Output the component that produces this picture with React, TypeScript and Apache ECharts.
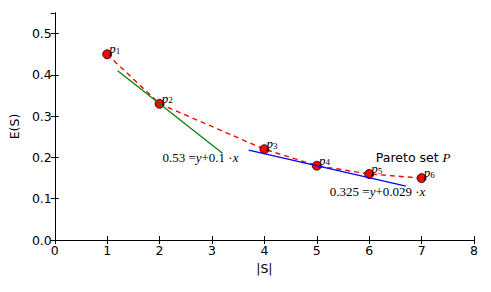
import React, { useEffect, useRef } from "react";
import * as echarts from "echarts";

const sizes = [1, 2, 4, 5, 6, 7];
const errors = [0.45, 0.33, 0.22, 0.18, 0.16, 0.15];
const pointIndices = ["1", "2", "3", "4", "5", "6"];
const fit1X = [1.2, 3.2];
const fit1Y = [0.41, 0.21];
const fit2X = [3.7, 6.7];
const fit2Y = [0.2177, 0.1307];
const xTicks = [0, 1, 2, 3, 4, 5, 6, 7, 8];
const yTicks = [0, 0.1, 0.2, 0.3, 0.4, 0.5];

const SANS = "DejaVu Sans";
const SERIF = "Liberation Serif";

export default function App() {
  const ref = useRef<HTMLDivElement>(null);
  useEffect(() => {
    const chart = echarts.init(ref.current!, null, { renderer: "svg" });
    const axisLine = { show: true, lineStyle: { color: "#000", width: 1 } };
    const tickStyle = { show: true, inside: true, length: 4, lineStyle: { color: "#000", width: 1 } };
    const mathRich = {
      n: { fontFamily: SERIF, fontSize: 13, color: "#000", textBorderWidth: 0 },
      i: { fontFamily: SERIF, fontSize: 13, fontStyle: "italic", color: "#000", textBorderWidth: 0 },
    };
    const option: any = {
      animation: false,
      backgroundColor: "#fff",
      grid: { left: 54, right: 17, top: 13, bottom: 52 },
      xAxis: [
        {
          type: "value",
          min: xTicks[0],
          max: xTicks[xTicks.length - 1],
          interval: 1,
          name: "|S|",
          nameLocation: "middle",
          nameGap: 19,
          nameTextStyle: { fontFamily: SANS, fontSize: 12.5, color: "#000" },
          axisLine,
          axisTick: tickStyle,
          splitLine: { show: false },
          axisLabel: { fontFamily: SANS, fontSize: 12.5, color: "#000", margin: 4 },
        },
        {
          type: "value",
          position: "top",
          min: xTicks[0],
          max: xTicks[xTicks.length - 1],
          interval: 1,
          axisLine,
          axisTick: tickStyle,
          splitLine: { show: false },
          axisLabel: { show: false },
        },
      ],
      yAxis: [
        {
          type: "value",
          min: yTicks[0],
          max: 0.55,
          interval: 0.1,
          name: "E(S)",
          nameLocation: "middle",
          nameGap: 24,
          nameTextStyle: { fontFamily: SANS, fontSize: 12.5, color: "#000" },
          axisLine,
          axisTick: tickStyle,
          splitLine: { show: false },
          axisLabel: {
            fontFamily: SANS,
            fontSize: 12.5,
            color: "#000",
            margin: 3,
            showMaxLabel: false,
            formatter: (v: number) => v.toFixed(1),
          },
        },
        {
          type: "value",
          position: "right",
          min: yTicks[0],
          max: 0.55,
          interval: 0.1,
          axisLine,
          axisTick: tickStyle,
          splitLine: { show: false },
          axisLabel: { show: false },
        },
      ],
      series: [
        {
          type: "line",
          data: sizes.map((x, i) => [x, errors[i]]),
          symbol: "none",
          lineStyle: { color: "#ff0000", width: 1.4, type: [5, 4] },
          z: 1,
        },
        {
          type: "scatter",
          data: sizes.map((x, i) => [x, errors[i]]),
          symbolSize: 9,
          itemStyle: { color: "#ff0000", borderColor: "#000", borderWidth: 0.8, opacity: 1 },
          label: {
            show: true,
            position: [7, -7],
            formatter: (p: any) => `{p|p}{s|${pointIndices[p.dataIndex]}}`,
            rich: {
              p: { fontFamily: SERIF, fontStyle: "italic", fontSize: 13, lineHeight: 13, verticalAlign: "top", color: "#000" },
              s: { fontFamily: SERIF, fontSize: 9, lineHeight: 9, padding: [8, 0, 0, 0], verticalAlign: "bottom", color: "#000" },
            },
          },
          z: 2,
        },
        {
          type: "line",
          data: fit1X.map((x, i) => [x, fit1Y[i]]),
          symbol: "none",
          lineStyle: { color: "#008000", width: 1.2 },
          z: 3,
        },
        {
          type: "line",
          data: fit2X.map((x, i) => [x, fit2Y[i]]),
          symbol: "none",
          lineStyle: { color: "#0000ff", width: 1.2 },
          z: 3,
        },
        {
          type: "scatter",
          symbolSize: 0,
          silent: true,
          itemStyle: { color: "#000", opacity: 1 },
          data: [
            { value: [2.78, 0.2], text: "{n|0.53 =}{i|y}{n|+0.1 ·}{i|x}" },
            { value: [6.84, 0.2], text: "{s|Pareto set }{i|P}" },
            { value: [6.16, 0.117], text: "{n|0.325 =}{i|y}{n|+0.029 ·}{i|x}" },
          ],
          label: {
            show: true,
            position: "inside",
            color: "#000",
            textBorderWidth: 0,
            opacity: 1,
            formatter: (p: any) => p.data.text,
            rich: { ...mathRich, s: { fontFamily: SANS, fontSize: 12.5, color: "#000", textBorderWidth: 0 } },
          },
          z: 4,
        },
      ],
    };
    chart.setOption(option);
    return () => chart.dispose();
  }, []);
  return (
    <div
      ref={ref}
      style={{ position: "absolute", left: 0, top: 0, width: 491, height: 292, background: "#fff" }}
    />
  );
}
